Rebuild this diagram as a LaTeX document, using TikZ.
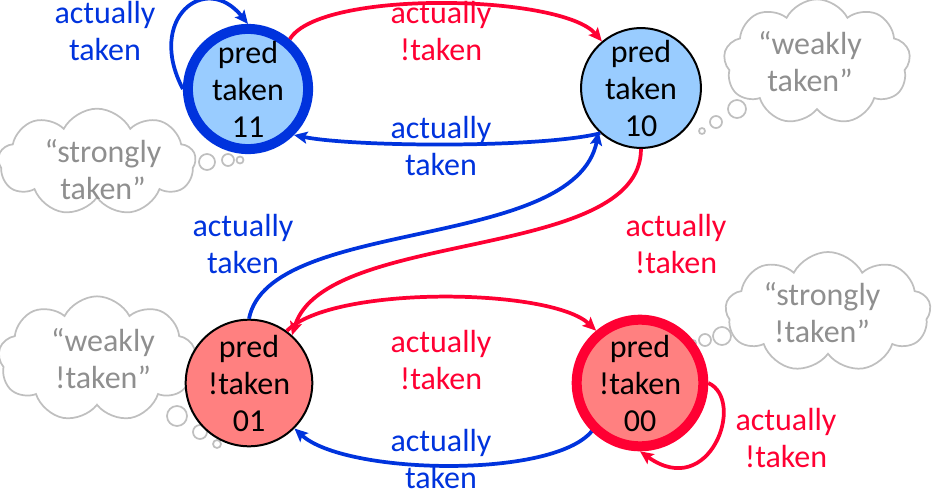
\documentclass[tikz,border=0pt]{standalone}
\usepackage{fontspec}
\setmainfont{Carlito}
\usetikzlibrary{arrows.meta,shapes.symbols}
\definecolor{cblue}{HTML}{0033DD}
\definecolor{cred}{HTML}{FF0033}
\definecolor{fblue}{HTML}{99CCFF}
\definecolor{fred}{HTML}{FF8080}
\definecolor{cloudline}{HTML}{BFBFBF}
\definecolor{cloudtext}{HTML}{8F8F8F}
\begin{document}
\begin{tikzpicture}[x=0.75pt,y=-0.75pt,
  every node/.style={font=\fontsize{24}{27.75}\selectfont, align=center, inner sep=0pt},
  state/.style={circle, minimum size=87pt, draw=black, line width=1.5pt},
  takenst/.style={state, fill=fblue},
  ntakenst/.style={state, fill=fred},
  bluelbl/.style={text=cblue},
  redlbl/.style={text=cred},
  conn/.style={line width=2.8pt, -{Stealth[length=10pt,width=9pt,inset=2pt]}},
  bconn/.style={conn, draw=cblue},
  rconn/.style={conn, draw=cred},
  thought/.style={cloud, draw=cloudline, line width=1.3pt, cloud puffs=9, cloud puff arc=125},
  thoughttext/.style={text=cloudtext},
  bubble/.style={draw=cloudline, line width=1.3pt}
]
\useasboundingbox (0,0) rectangle (933,496);

% clouds
\node[thought, minimum width=140pt, minimum height=94pt, aspect=1.5] (c10) at (817,62) {};
\node[thoughttext] (t10) at (810,62) {“weakly\\taken”};
\draw[bubble] (702,131) circle[radius=3];
\draw[bubble] (716,122) circle[radius=6];
\draw[bubble] (737,109) circle[radius=9];

\node[thought, minimum width=148pt, minimum height=80pt, aspect=1.85] (c11) at (97,162) {};
\node[thoughttext] (t11) at (103,170) {“strongly\\taken”};
\draw[bubble] (207,162) circle[radius=8];
\draw[bubble] (228,160) circle[radius=6];
\draw[bubble] (240,160) circle[radius=3.5];

\node[thought, minimum width=148pt, minimum height=94pt, aspect=1.57] (c01) at (97,359) {};
\node[thoughttext] (t01) at (103,359) {“weakly\\!taken”};
\draw[bubble] (177,416) circle[radius=10];
\draw[bubble] (200,432) circle[radius=7];
\draw[bubble] (217,444) circle[radius=4];

\node[thought, minimum width=154pt, minimum height=90pt, aspect=1.7] (c00) at (828,312) {};
\node[thoughttext] (t00) at (822,313) {“strongly\\!taken”};
\draw[bubble] (722,336) circle[radius=9];
\draw[bubble] (705,340) circle[radius=6];
\draw[bubble] (693,343) circle[radius=3];

% states
\node[takenst, draw=cblue, line width=7.5pt, minimum size=84pt] (n11) at (248,89) {pred\\taken\\11};
\node[takenst] (n10) at (641,88) {pred\\taken\\10};
\node[ntakenst] (n01) at (249,383) {pred\\!taken\\01};
\node[ntakenst, draw=cred, line width=7.5pt, minimum size=86pt] (n00) at (640,383) {pred\\!taken\\00};

% connectors
\draw[bconn] (n11.west) .. controls +(-37,-70) and +(-43,-53) .. (n11.north);
\draw[rconn] (n11.50) .. controls +(30,-50) and +(-40,-47) .. (n10.130);
\draw[bconn] (n10.228) .. controls +(-60,15) and +(60,12) .. (n11.-45);
\draw[bconn] (n01.north) .. controls +(20,-102) and +(-24,120) .. (n10.226);
\draw[rconn] (n10.south) .. controls +(0,113) and +(33,-107) .. (n01.48);
\draw[rconn] (n01.54) .. controls +(45,-46) and +(-45,-43) .. (n00.130);
\draw[bconn] (n00.225) .. controls +(-40,48) and +(50,46) .. (n01.-45);
\draw[rconn] (n00.0) .. controls +(38,17) and +(70,50) .. (n00.south);

% labels
\node[bluelbl] (l1) at (105,31) {actually\\taken};
\node[redlbl] (l2) at (441,31) {actually\\!taken};
\node[bluelbl] (l3) at (441,146) {actually\\taken};
\node[bluelbl] (l4) at (243,244) {actually\\taken};
\node[redlbl] (l5) at (676,244) {actually\\!taken};
\node[redlbl] (l6) at (441,360) {actually\\!taken};
\node[bluelbl] (l7) at (441,459) {actually\\taken};
\node[redlbl] (l8) at (786,438) {actually\\!taken};
\end{tikzpicture}
\end{document}
